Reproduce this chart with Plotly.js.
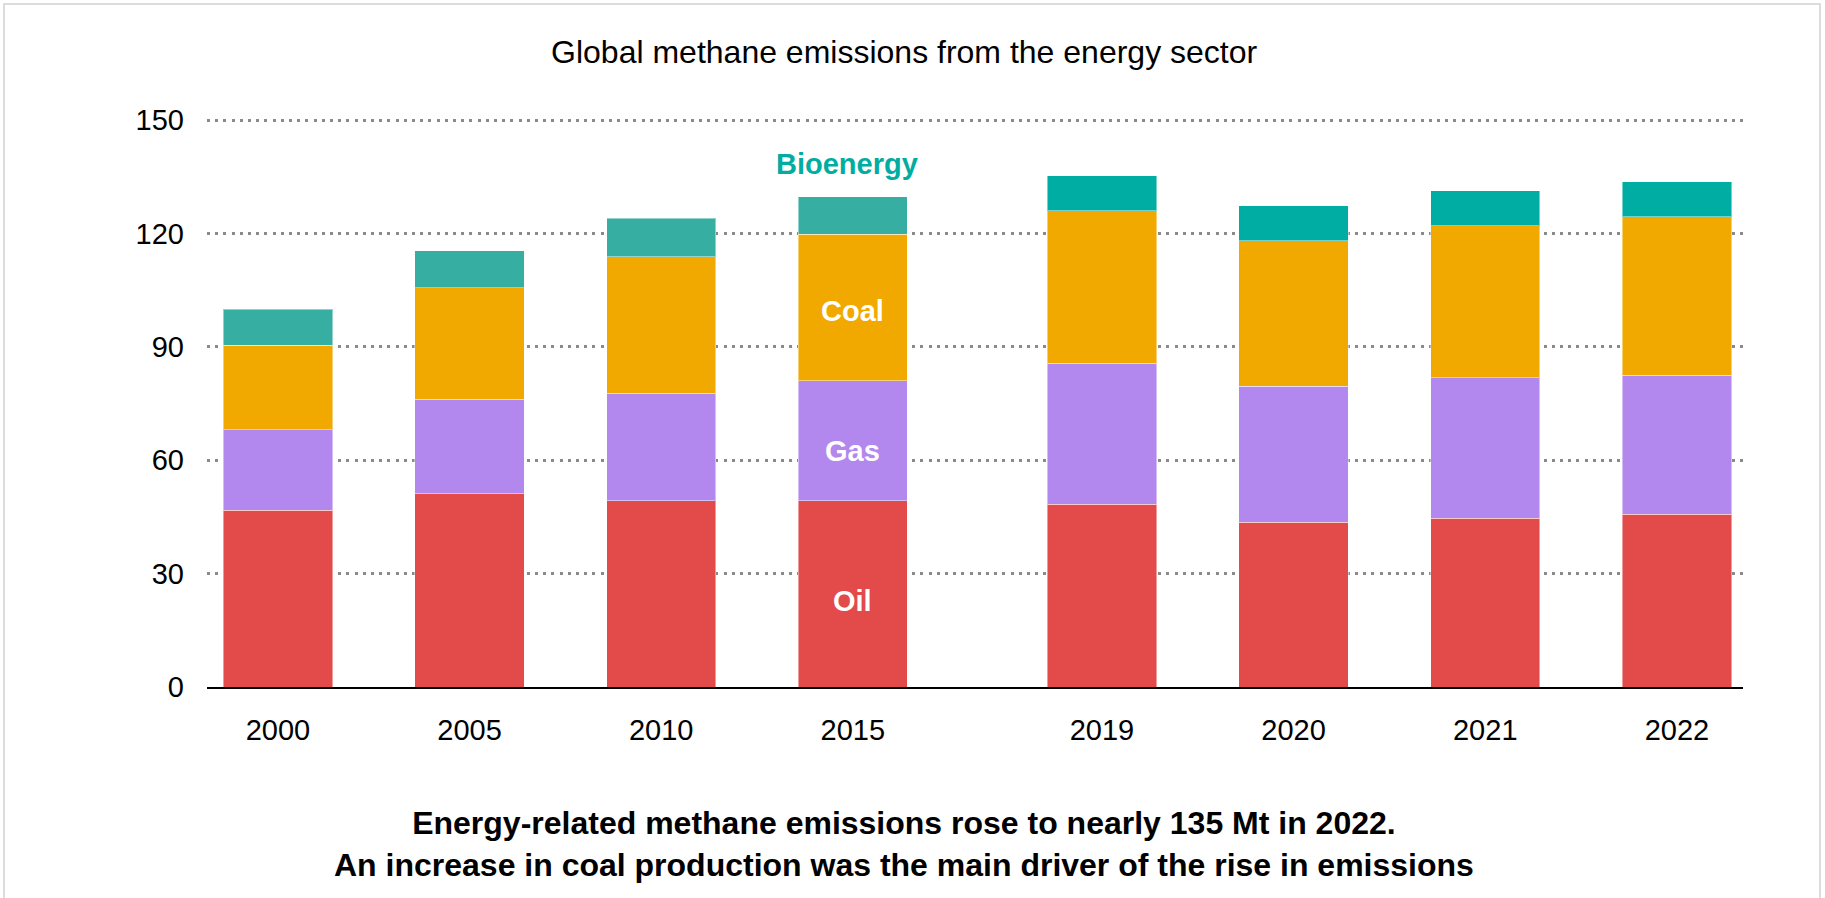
<!DOCTYPE html>
<html><head><meta charset="utf-8">
<script src="https://cdn.plot.ly/plotly-3.0.1.min.js"></script>
<style>
html,body{margin:0;padding:0;background:#fff;overflow:hidden}
#chart{width:1825px;height:898px}
#frame{position:absolute;left:3px;top:3px;width:1814px;height:920px;border:2px solid #dcdcdc;pointer-events:none}
</style></head><body>
<div id="chart"></div><div id="frame"></div>
<script>
// ---- data ----
const years = ['2000','2005','2010','2015','2019','2020','2021','2022'];
const oil = [46.8, 51.2, 49.3, 49.3, 48.4, 43.6, 44.7, 45.7];
const gas = [21.3, 24.9, 28.4, 31.7, 37.3, 36.0, 37.1, 36.8];
const coal = [22.3, 29.6, 36.1, 38.8, 40.3, 38.5, 40.2, 41.9];
const bioenergy = [9.6, 9.8, 10.2, 9.9, 9.3, 9.2, 9.3, 9.3];
const seriesNames = ['Oil', 'Gas', 'Coal', 'Bioenergy'];
const yTicks = [0, 30, 60, 90, 120, 150];
const labelledYear = '2015';
const breakAfter = '2015';
const chartTitle = 'Global methane emissions from the energy sector';
const caption = 'Energy-related methane emissions rose to nearly 135 Mt in 2022.<br>An increase in coal production was the main driver of the rise in emissions';

// ---- layout helpers ----
const FONT = '"Liberation Sans", Arial, sans-serif';
const breakIdx = years.indexOf(breakAfter);
const xPos = years.map((y, i) => i + (i > breakIdx ? 0.3 : 0));
const colors = {Oil: '#E34A4A', Gas: '#B287EE', Coal: '#F1A900'};
const bioColors = years.map((y, i) => i > breakIdx ? '#00ADA2' : '#37AEA2');
const values = [oil, gas, coal, bioenergy];

const traces = seriesNames.map((name, s) => ({
  type: 'bar',
  name: name,
  x: xPos,
  y: values[s],
  width: 0.57,
  marker: {
    color: name === 'Bioenergy' ? bioColors : colors[name],
    line: {width: 1, color: 'rgba(255,255,255,0.45)'}
  },
  hoverinfo: 'name+y'
}));

const k = years.indexOf(labelledYear);
const oilMid = oil[k] / 2;
const gasMid = oil[k] + gas[k] / 2;
const coalMid = oil[k] + gas[k] + coal[k] / 2;
const total = oil[k] + gas[k] + coal[k] + bioenergy[k];

const segFont = {family: FONT, size: 29, color: '#ffffff', weight: 'bold'};
const annotations = [
  {x: xPos[k], y: oilMid, text: '<b>Oil</b>', yshift: -7},
  {x: xPos[k], y: gasMid, text: '<b>Gas</b>', yshift: -10},
  {x: xPos[k], y: coalMid, text: '<b>Coal</b>', yshift: -3},
].map(a => Object.assign(a, {xref: 'x', yref: 'y', showarrow: false, xanchor: 'center', yanchor: 'middle', font: segFont}));

annotations.push({
  x: xPos[k], y: total, xref: 'x', yref: 'y', text: '<b>Bioenergy</b>', showarrow: false,
  xanchor: 'center', yanchor: 'middle', yshift: 33, xshift: -6,
  font: {family: FONT, size: 29, color: '#00ADA0'}
});
annotations.push({
  x: 0.4538, y: -0.2765, xref: 'paper', yref: 'paper', text: '<b>' + caption + '</b>',
  showarrow: false, xanchor: 'center', yanchor: 'middle', align: 'center',
  font: {family: FONT, size: 32, color: '#000000'}
});

const layout = {
  width: 1825, height: 898,
  paper_bgcolor: '#ffffff', plot_bgcolor: '#ffffff',
  margin: {l: 207, r: 82, t: 119, b: 211, pad: 0},
  barmode: 'stack',
  bargap: 0,
  showlegend: false,
  font: {family: FONT, size: 29, color: '#000000'},
  title: {
    text: chartTitle,
    font: {family: FONT, size: 32, color: '#000000'},
    x: 0.4954, xref: 'container', xanchor: 'center',
    y: 0.942, yref: 'container', yanchor: 'middle'
  },
  xaxis: {
    type: 'linear',
    range: [-0.370, 7.645],
    tickmode: 'array',
    tickvals: xPos,
    ticktext: years,
    showgrid: false,
    zeroline: false,
    showline: true,
    linecolor: '#000000',
    linewidth: 2,
    ticks: '',
    ticklabelstandoff: 16,
    tickfont: {family: FONT, size: 29, color: '#000000'},
    fixedrange: true
  },
  yaxis: {
    range: [0, 150.3],
    tickmode: 'array',
    tickvals: yTicks,
    ticktext: yTicks.map(String),
    showgrid: true,
    gridcolor: '#8a8a8a',
    gridwidth: 3,
    griddash: '3px,5.2px',
    zeroline: false,
    showline: false,
    ticks: '',
    ticklabelstandoff: 22,
    tickfont: {family: FONT, size: 29, color: '#000000'},
    fixedrange: true
  },
  annotations: annotations
};

Plotly.newPlot('chart', traces, layout, {displayModeBar: false, staticPlot: true});
</script>
</body></html>
